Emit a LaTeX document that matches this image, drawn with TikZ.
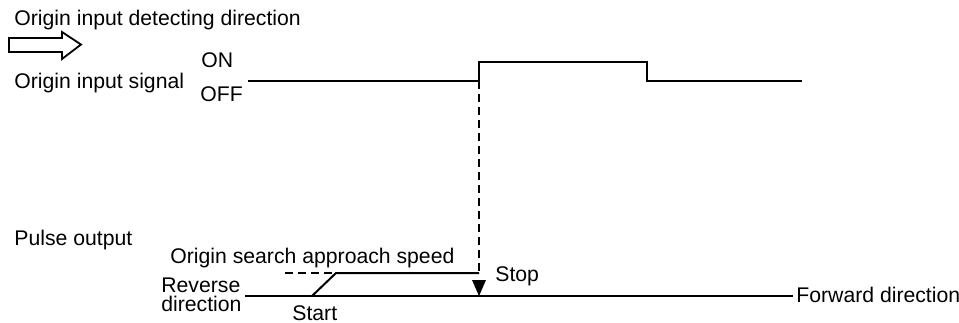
\documentclass[tikz,border=0pt]{standalone}
\usepackage{fontspec}
\setmainfont{Liberation Sans}
\usepackage{tikz}
\usetikzlibrary{arrows.meta,positioning,calc}

\begin{document}
\begin{tikzpicture}[x=0.5pt,y=-0.5pt,
    lbl/.style={anchor=west,inner sep=0pt,font=\fontsize{10.6}{9.5}\selectfont},
    wave/.style={line width=1pt,line join=miter},
    guide/.style={line width=1pt,dash pattern=on 4pt off 2.5pt}]
    \useasboundingbox (0,0) rectangle (959,322);

    % Labels
    \node[lbl] (dirtxt) at (14,20) {Origin input detecting direction};
    \node[lbl] (sigtxt) at (14,83) {Origin input signal};
    \node[lbl] (on) at (201,60) {ON};
    \node[lbl] (off) at (200,94) {OFF};
    \node[lbl] (pulse) at (14,240) {Pulse output};
    \node[lbl] (speed) at (170,258) {Origin search approach speed};
    \node[lbl,align=left] (rev) at (161,295) {Reverse\\direction};
    \node[lbl] (start) at (292,313) {Start};
    \node[lbl] (stop) at (495,276) {Stop};
    \node[lbl] (fwd) at (796,295) {Forward direction};

    % Open arrow
    \draw[line width=0.9pt] (9,38) -- (62,38) -- (62,32) -- (81,44.5)
        -- (62,59) -- (62,52) -- (9,52) -- cycle;

    % Origin input signal
    \coordinate (s0) at (248,81);
    \coordinate (s1) at (479,81);
    \coordinate (s2) at (479,62);
    \coordinate (s3) at (647,62);
    \coordinate (s4) at (647,81);
    \coordinate (s5) at (802,81);
    \draw[wave] (s0) -- (s1) -- (s2) -- (s3) -- (s4) -- (s5);

    % Pulse output
    \coordinate (b0) at (245,296);
    \coordinate (b1) at (793,296);
    \coordinate (p0) at (312,296);
    \coordinate (p1) at (336,273);
    \coordinate (p2) at (479,273);
    \coordinate (d0) at (285,273);
    \draw[wave] (b0) -- (b1);
    \draw[wave] (p0) -- (p1) -- (p2);
    \draw[guide] (d0) -- (p1);
    \draw[guide] (s1) -- (p2);

    % Stop arrow
    \coordinate (tip) at (479,296);
    \fill ($(tip)+(-7,-16)$) -- ($(tip)+(7,-16)$) -- (tip) -- cycle;
\end{tikzpicture}
\end{document}
